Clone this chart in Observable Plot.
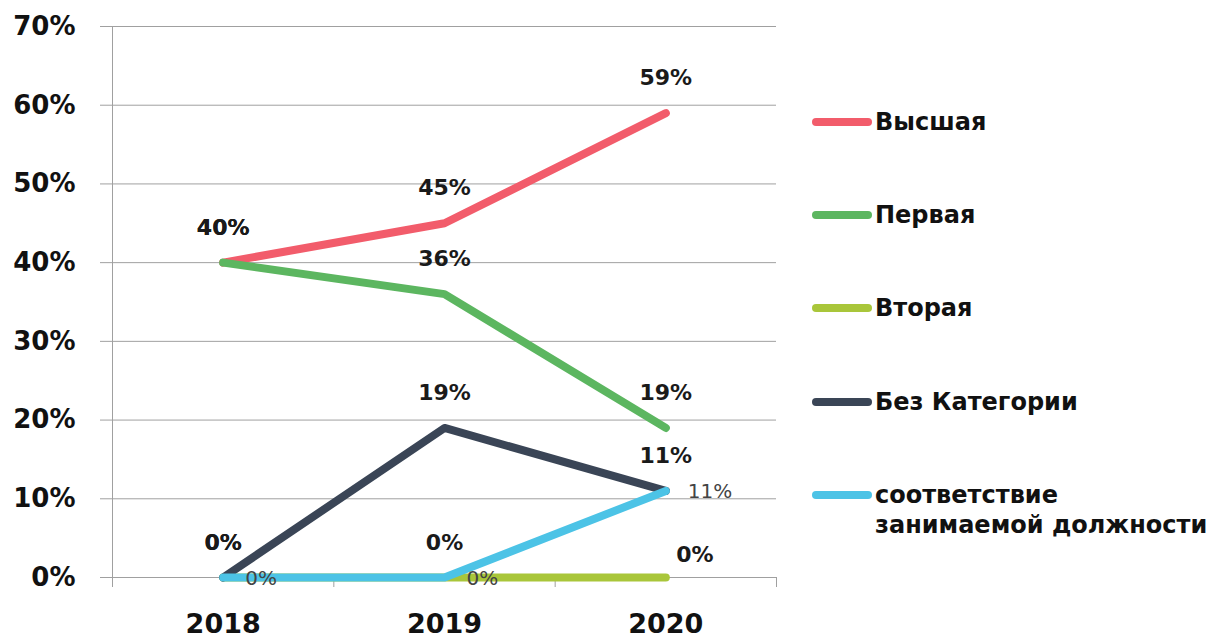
<!DOCTYPE html>
<html>
<head>
<meta charset="utf-8">
<script src="https://cdn.jsdelivr.net/npm/d3@7"></script>
<script src="https://cdn.jsdelivr.net/npm/@observablehq/plot@0.6"></script>
<style>
  html, body { margin: 0; padding: 0; background: #fff; }
  #wrap { position: relative; width: 1214px; height: 638px; font-family: "DejaVu Sans", sans-serif; }
  #legend { position: absolute; left: 0; top: 0; }
  .item { position: absolute; left: 812px; display: block; }
  .sw { position: absolute; left: 0; width: 60px; height: 8px; border-radius: 4px; }
  .lbl { position: absolute; left: 63px; font-weight: bold; font-size: 24px; color: #111; white-space: nowrap; line-height: 30px; }
</style>
</head>
<body>
<div id="wrap"><div id="chart"></div><div id="legend"></div></div>
<script>
// ---- data ----
const years = [2018, 2019, 2020];
const seriesNames = ["Высшая", "Первая", "Вторая", "Без Категории", "соответствие занимаемой должности"];
const legendLines = [["Высшая"], ["Первая"], ["Вторая"], ["Без Категории"], ["соответствие", "занимаемой должности"]];
const vysshaya = [0.40, 0.45, 0.59];
const pervaya = [0.40, 0.36, 0.19];
const vtoraya = [0.00, 0.00, 0.00];
const bezKategorii = [0.00, 0.19, 0.11];
const sootvetstvie = [0.00, 0.00, 0.11];
const seriesColors = ["#f25c6b", "#5cb660", "#a9c63a", "#3a4556", "#4cc3e6"];
const yTicks = [0, 0.1, 0.2, 0.3, 0.4, 0.5, 0.6, 0.7];
const xBounds = [2017.5, 2018.5, 2019.5, 2020.5];

const allValues = [vysshaya, pervaya, vtoraya, bezKategorii, sootvetstvie];
const rows = [];
seriesNames.forEach((s, i) => years.forEach((y, j) => rows.push({series: s, year: y, value: allValues[i][j]})));

const pct = d3.format(".0%");
const cyanName = seriesNames[4];
const isSpecial = d => d.series === "Вторая" && d.year === 2020;
const boldRows = rows.filter(d => d.series !== cyanName && !isSpecial(d));
const specialRows = rows.filter(isSpecial);
const cyanRows = rows.filter(d => d.series === cyanName);

const chart = Plot.plot({
  width: 1214,
  height: 638,
  marginLeft: 112,
  marginRight: 438,
  marginTop: 26,
  marginBottom: 61,
  x: {type: "linear", domain: [2017.5, 2020.5], axis: null, label: null},
  y: {domain: [0, 0.7], axis: null, label: null},
  color: {domain: seriesNames, range: seriesColors},
  style: {fontFamily: "'DejaVu Sans', sans-serif", background: "white"},
  marks: [
    Plot.gridY(yTicks, {stroke: "#a0a0a0", strokeOpacity: 1, strokeWidth: 1}),
    Plot.ruleX([2017.5], {stroke: "#a0a0a0", strokeWidth: 1}),
    Plot.axisY(yTicks, {label: null, tickSize: 12, tickPadding: 25, tickFormat: pct, fontSize: 26, fontWeight: "bold", stroke: "#a0a0a0", fill: "#111"}),
    Plot.axisX(xBounds, {label: null, tickSize: 10, tickFormat: () => "", stroke: "#a0a0a0"}),
    Plot.axisX(years, {label: null, tickSize: 0, tickPadding: 36, tickFormat: d => String(d), fontSize: 27, fontWeight: "bold", fill: "#111"}),
    Plot.line(rows, {x: "year", y: "value", z: "series", stroke: "series", strokeWidth: 8, strokeLinecap: "round", strokeLinejoin: "round"}),
    Plot.text(boldRows, {x: "year", y: "value", text: d => pct(d.value), dy: -35, fontSize: 22, fontWeight: "bold", fill: "#1a1a1a"}),
    Plot.text(specialRows, {x: "year", y: "value", text: d => pct(d.value), dx: 29, dy: -23, fontSize: 22, fontWeight: "bold", fill: "#1a1a1a"}),
    Plot.text(cyanRows, {x: "year", y: "value", text: d => pct(d.value), dx: 22, dy: 1, textAnchor: "start", fontSize: 20, fill: "#444"})
  ]
});
document.getElementById("chart").appendChild(chart);

// legend
const legendTops = [122, 215, 308, 402, 495];
const legend = document.getElementById("legend");
seriesNames.forEach((s, i) => {
  const item = document.createElement("div");
  item.className = "item";
  item.style.top = legendTops[i] + "px";
  const sw = document.createElement("div");
  sw.className = "sw";
  sw.style.background = seriesColors[i];
  sw.style.top = "-4px";
  item.appendChild(sw);
  legendLines[i].forEach((t, k) => {
    const l = document.createElement("div");
    l.className = "lbl";
    l.textContent = t;
    l.style.top = (-15 + k * 30) + "px";
    item.appendChild(l);
  });
  legend.appendChild(item);
});
</script>
</body>
</html>
